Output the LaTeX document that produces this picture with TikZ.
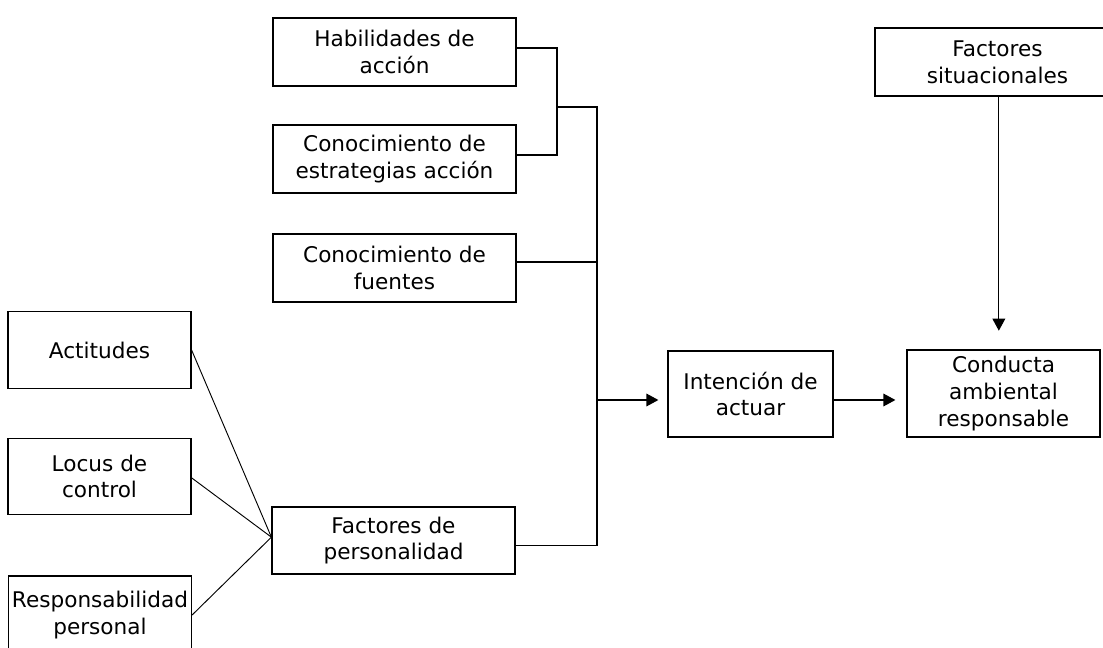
\documentclass[tikz,border=0pt]{standalone}
\usepackage{fontspec}
\setmainfont{DejaVu Sans}
\usetikzlibrary{arrows.meta}
\begin{document}
\begin{tikzpicture}[x=0.75pt,y=-0.75pt,
  box/.style={draw, line width=0.9pt, align=center, inner sep=0pt,
    font=\fontsize{16.2}{20}\selectfont},
  wide/.style={box, minimum width=182.25pt, minimum height=51pt},
  lft/.style={box, minimum width=137.25pt, minimum height=57.5pt},
  conn/.style={line width=0.9pt},
  diag/.style={line width=0.7pt},
  arr/.style={line width=0.9pt, -{Triangle[length=9pt,width=9.5pt]}}]
\useasboundingbox (0,0) rectangle (1103,648);
\node[wide] (hab) at (394.5,52) {Habilidades de\\acción};
\node[wide] (est) at (394.5,159) {Conocimiento de\\estrategias acción};
\node[wide] (fue) at (394.5,268) {Conocimiento de\\fuentes};
\node[lft] (act) at (99.5,350) {Actitudes};
\node[lft] (loc) at (99.5,476.5) {Locus de\\control};
\node[lft, minimum height=58.5pt] (res) at (100,615) {Responsabilidad\\personal};
\node[wide, minimum height=50.25pt] (per) at (393.5,540.5) {Factores de\\personalidad};
\node[box, minimum width=123.75pt, minimum height=64.5pt] (int) at (750.5,394) {Intención de\\actuar};
\node[box, minimum width=144.75pt, minimum height=65.25pt] (con) at (1003.5,393.5) {Conducta\\ambiental\\responsable};
\node[box, minimum width=183.75pt, minimum height=51pt] (sit) at (997.5,62) {Factores\\situacionales};
\coordinate (j1) at (557,107);
\coordinate (j2) at (597,107);
\coordinate (j3) at (597,400);
\coordinate (cv) at ([yshift=2.5pt]per.west);
\draw[conn] ([yshift=3pt]hab.east) -| (j1) |- ([yshift=3pt]est.east);
\draw[conn] (j1) -- (j2) |- ([yshift=-4pt]per.east);
\draw[conn] ([yshift=4.5pt]fue.east) -- ([yshift=4.5pt]fue.east -| j2);
\draw[arr] (j3) -- ([xshift=-6.75pt]int.west |- j3);
\draw[arr] (int.east |- j3) -- ([xshift=-8.25pt]con.west |- j3);
\draw[arr] ([xshift=1pt]sit.south) -- ([xshift=1pt,yshift=14pt]sit.south |- con.north);
\draw[diag] (act.east) -- (cv);
\draw[diag] ([yshift=-1pt]loc.east) -- (cv);
\draw[diag] (res.east) -- (cv);
\end{tikzpicture}
\end{document}
